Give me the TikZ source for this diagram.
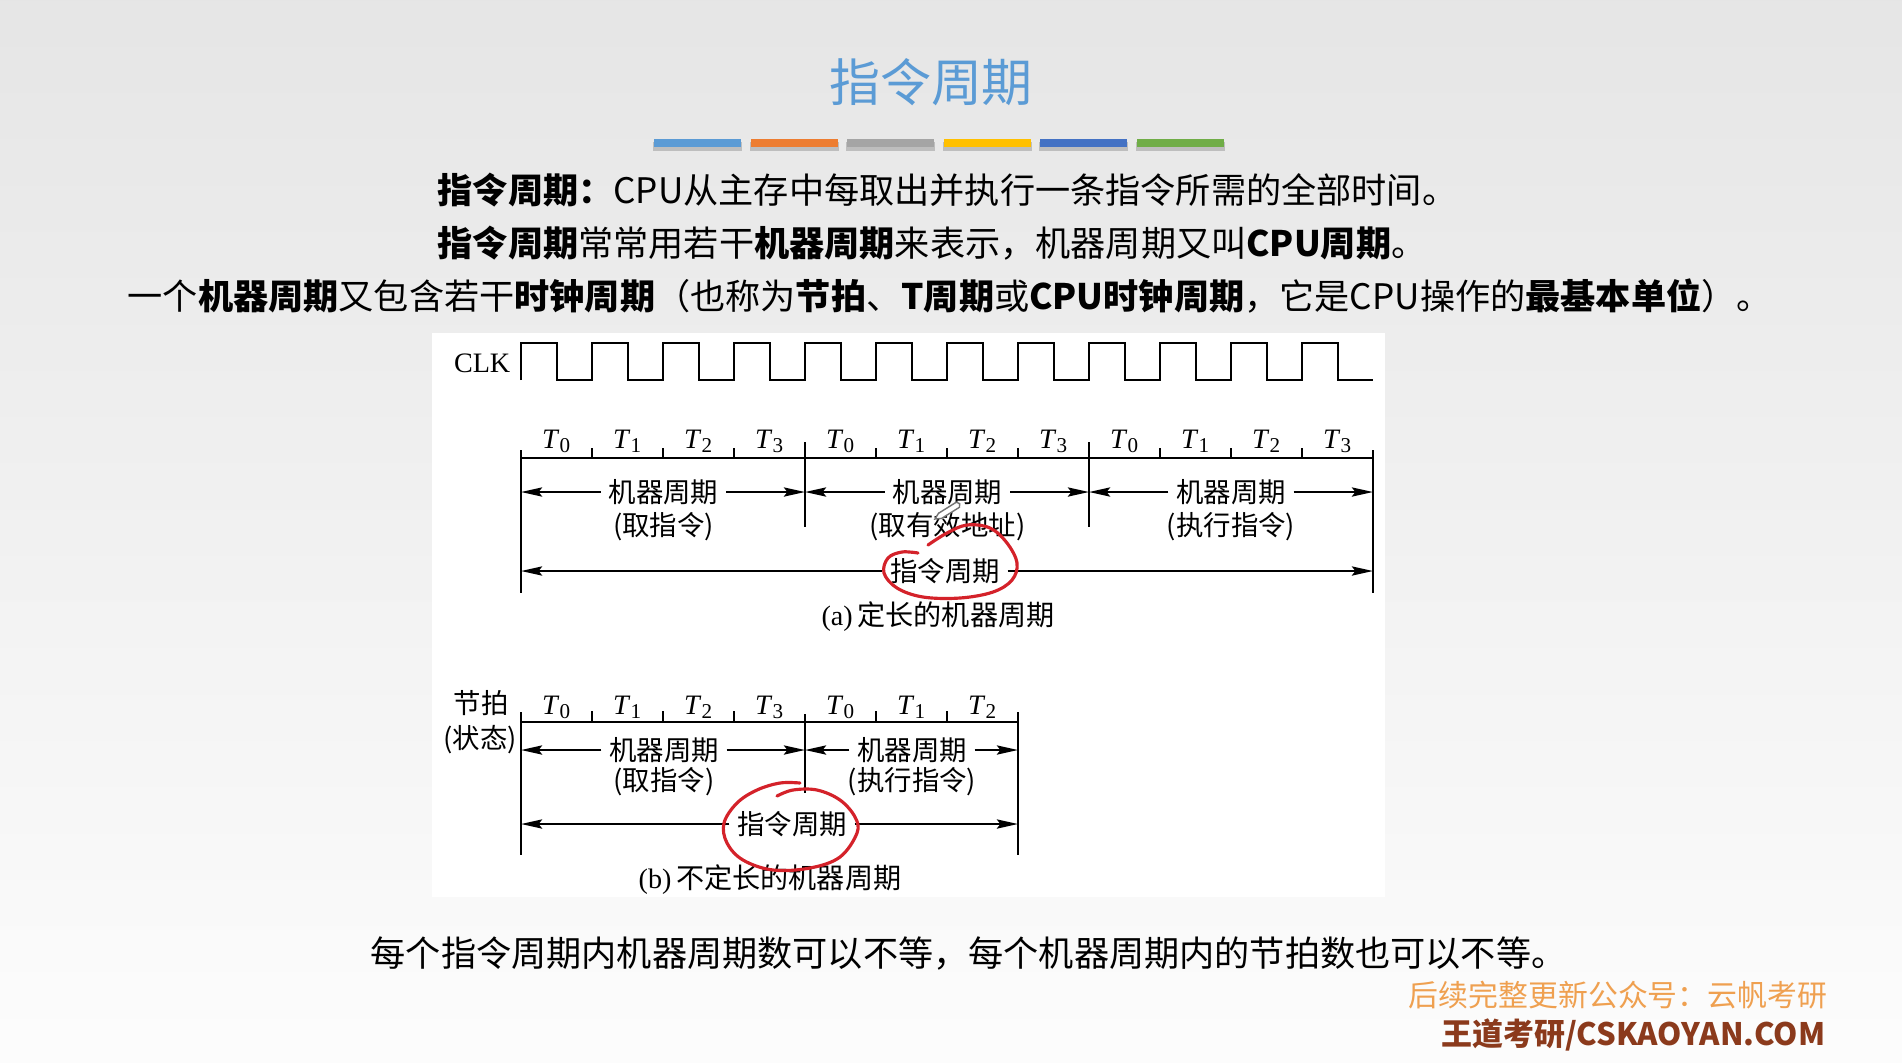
\documentclass[tikz,border=0pt]{standalone}
\usepackage{fontspec}
\setmainfont{Liberation Serif}
\newfontfamily\cjk{Noto Sans CJK SC}
\usetikzlibrary{arrows.meta}
\definecolor{titleblue}{HTML}{5B9BD5}
\definecolor{barblue}{HTML}{5B9BD5}
\definecolor{barorange}{HTML}{ED7D31}
\definecolor{bargray}{HTML}{A5A5A5}
\definecolor{bargold}{HTML}{FFC000}
\definecolor{bardblue}{HTML}{4472C4}
\definecolor{bargreen}{HTML}{70AD47}
\definecolor{wmorange}{HTML}{EFA050}
\definecolor{wmbrown}{HTML}{8B3A1C}
\definecolor{penred}{HTML}{D4222A}
\begin{document}
\begin{tikzpicture}[x=0.01cm,y=-0.01cm]
    % Define styles for the slide and the timing figure
    \tikzstyle{line}=[line width=0.7pt]
    \tikzstyle{arr}=[line width=0.7pt, -{Stealth[length=6pt,width=2.6pt,inset=1pt]}]
    \tikzstyle{lab}=[font=\cjk\fontsize{7.8}{9}\selectfont, inner sep=2pt]
    \tikzstyle{figcap}=[font=\fontsize{8}{9}\selectfont, inner sep=0pt]
    \tikzstyle{tlab}=[font=\fontsize{8}{9}\selectfont, inner sep=0pt, anchor=base]
    \tikzstyle{slide}=[font=\cjk\fontsize{10}{12}\selectfont, inner sep=0pt, anchor=west]
    \tikzstyle{pen}=[penred, line width=0.9pt, line cap=round]

    % Background
    \useasboundingbox (0,0) rectangle (1902,1062);
    \shade[top color=black!10, bottom color=black!1] (0,0) rectangle (1902,1062);

    % Title and colour bars
    \node[font=\cjk\fontsize{14.5}{16}\selectfont, text=titleblue] (title) at (931,82) {指令周期};
    \foreach \c [count=\i from 0] in {barblue,barorange,bargray,bargold,bardblue,bargreen} {
      \fill[black, opacity=0.18] (653+96.5*\i,142) rectangle ++(89,9);
      \fill[\c] (654+96.5*\i,139) rectangle ++(87,8);
    }

    % Definitions
    \node[slide] (l1) at (437,190) {\textbf{指令周期：}CPU从主存中每取出并执行一条指令所需的全部时间。};
    \node[slide] (l2) at (437,243) {\textbf{指令周期}常常用若干\textbf{机器周期}来表示，机器周期又叫\textbf{CPU周期}。};
    \node[slide] (l3) at (127,296) {一个\textbf{机器周期}又包含若干\textbf{时钟周期}（也称为\textbf{节拍}、\textbf{T周期}或\textbf{CPU时钟周期}，它是CPU操作的\textbf{最基本单位}）。};

    % Figure panel
    \fill[white] (432,333) rectangle (1385,897);

    % Clock
    \node[font=\fontsize{8}{9}\selectfont, anchor=east, inner sep=0pt] (clk) at (511,363) {CLK};
    \draw[line] (521,380) \foreach \i in {0,...,11} { -- ++(0,-37) -- ++(36,0) -- ++(0,37) -- ++(35,0) };

    % (a) fixed machine cycles
    \foreach \k in {0,...,12} \coordinate (a\k) at (521+71*\k,458);
    \draw[line] (a0) -- (a12);
    \foreach \k in {1,2,3,5,6,7,9,10,11} \draw[line] (a\k) -- ++(0,-10);
    \foreach \k in {4,8} \draw[line] (a\k) ++(0,-16) -- ++(0,85);
    \foreach \k in {0,12} \draw[line] (a\k) ++(0,-8) -- ++(0,143);
    \foreach \t [count=\k from 0] in {0,1,2,3,0,1,2,3,0,1,2,3}
      \node[tlab] (ta\k) at (557+71*\k,448) {\textit{T}\textsubscript{\t}};

    \node[lab] (ma1) at (663.5,492) {机器周期};
    \node[lab] (ma1s) at (663.5,527) {(取指令)};
    \draw[arr] (ma1.west) -- (ma1.west -| a0);
    \draw[arr] (ma1.east) -- (ma1.east -| a4);

    \node[lab] (ma2) at (947.5,492) {机器周期};
    \node[lab] (ma2s) at (947.5,527) {(取有效地址)};
    \draw[arr] (ma2.west) -- (ma2.west -| a4);
    \draw[arr] (ma2.east) -- (ma2.east -| a8);

    \node[lab] (ma3) at (1231,492) {机器周期};
    \node[lab] (ma3s) at (1231,527) {(执行指令)};
    \draw[arr] (ma3.west) -- (ma3.west -| a8);
    \draw[arr] (ma3.east) -- (ma3.east -| a12);

    \node[lab] (ia) at (945,571) {指令周期};
    \draw[arr] (ia.west) -- (ia.west -| a0);
    \draw[arr] (ia.east) -- (ia.east -| a12);

    \node[figcap] (capa) at (938,617) {(a)\,{\cjk 定长的机器周期}};

    % (b) variable machine cycles
    \node[lab] (jp) at (481,703) {节拍};
    \node[lab] (zt) at (480,740) {(状态)};
    \foreach \k in {0,...,7} \coordinate (b\k) at (521+71*\k,722);
    \draw[line] (b0) -- (b7);
    \foreach \k in {1,2,3,5,6} \draw[line] (b\k) -- ++(0,-11);
    \draw[line] (b4) ++(0,-8) -- ++(0,79);
    \foreach \k in {0,7} \draw[line] (b\k) ++(0,-10) -- ++(0,143);
    \foreach \t [count=\k from 0] in {0,1,2,3,0,1,2}
      \node[tlab] (tb\k) at (557+71*\k,714) {\textit{T}\textsubscript{\t}};

    \node[lab] (mb1) at (664,750) {机器周期};
    \node[lab] (mb1s) at (664,782) {(取指令)};
    \draw[arr] (mb1.west) -- (mb1.west -| b0);
    \draw[arr] (mb1.east) -- (mb1.east -| b4);

    \node[lab] (mb2) at (912,750) {机器周期};
    \node[lab] (mb2s) at (912,782) {(执行指令)};
    \draw[arr] (mb2.west) -- (mb2.west -| b4);
    \draw[arr] (mb2.east) -- (mb2.east -| b7);

    \node[lab] (ib) at (792,824) {指令周期};
    \draw[arr] (ib.west) -- (ib.west -| b0);
    \draw[arr] (ib.east) -- (ib.east -| b7);

    \node[figcap] (capb) at (770,880) {(b)\,{\cjk 不定长的机器周期}};

    % Red pen marks
    \draw[pen] plot[smooth, tension=0.6] coordinates {(928,545) (947,533) (967,525) (990,528) (1007,543) (1017,563) (1012,580) (993,592) (960,598) (923,597) (897,588) (884,573) (888,558) (902,552) (918,553)};
    \draw[pen] plot[smooth, tension=0.6] coordinates {(800,783) (780,783) (757,790) (737,803) (724,823) (727,843) (743,860) (773,870) (810,868) (840,857) (857,833) (855,817) (840,800) (817,790) (793,790) (777,796)};
    \begin{scope}[shift={(935,519)}, rotate=32]
      \draw[black!55, fill=white, line width=0.4pt] (0,0) -- (6,-3) -- (27,-3) -- (29,0) -- (27,3) -- (6,3) -- cycle;
    \end{scope}

    % Summary and footer
    \node[slide] (note) at (370,953) {每个指令周期内机器周期数可以不等，每个机器周期内的节拍数也可以不等。};
    \node[font=\cjk\fontsize{8.5}{10}\selectfont, text=wmorange, anchor=east, inner sep=0pt] (wm1) at (1828,995) {后续完整更新公众号：云帆考研};
    \node[font=\cjk\bfseries\fontsize{8.8}{10}\selectfont, text=wmbrown, anchor=east, inner sep=0pt] (wm2) at (1826,1035) {王道考研/CSKAOYAN.COM};
\end{tikzpicture}
\end{document}
